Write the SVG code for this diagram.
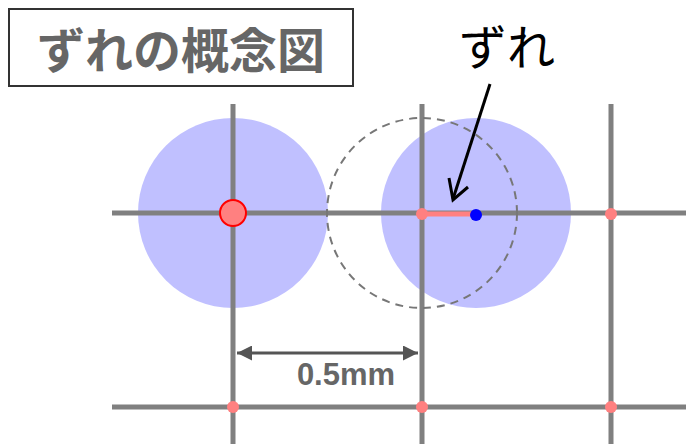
<svg xmlns="http://www.w3.org/2000/svg" width="686" height="444" viewBox="0 0 686 444">
<style>
.grid{stroke:#808080;stroke-width:5;fill:none}
.area{fill:#c0c0ff}
.pt{fill:#ff8080}
.jp{font-family:"Noto Sans CJK JP","Noto Sans",sans-serif;font-weight:bold}
</style>
<defs>
<marker id="dimArrow" viewBox="0 0 10 10" refX="10" refY="5" markerWidth="5" markerHeight="5" orient="auto-start-reverse" markerUnits="strokeWidth">
<path d="M0,0 L10,5 L0,10 z" fill="#555"/>
</marker>
</defs>
<rect width="686" height="444" fill="#fff"/>
<g id="title">
<rect x="9" y="9" width="344" height="77" fill="#fff" stroke="#333" stroke-width="2"/>
<text x="181" y="68" class="jp" font-size="48" fill="#666" text-anchor="middle">ずれの概念図</text>
</g>
<g id="areas">
<circle cx="233" cy="213" r="95" class="area"/>
<circle cx="476" cy="213" r="95" class="area"/>
</g>
<g id="grid">
<line x1="233" y1="104" x2="233" y2="444" class="grid"/>
<line x1="422" y1="104" x2="422" y2="444" class="grid"/>
<line x1="611" y1="104" x2="611" y2="444" class="grid"/>
<line x1="112" y1="213" x2="686" y2="213" class="grid"/>
<line x1="112" y1="407" x2="686" y2="407" class="grid"/>
</g>
<g id="dashed-circle">
<circle cx="422" cy="213" r="95" fill="none" stroke="#777" stroke-width="2" stroke-dasharray="8,6"/>
</g>
<g id="offset">
<line x1="422" y1="214" x2="476" y2="214" stroke="#ff8080" stroke-width="5"/>
</g>
<g id="points">
<circle cx="422" cy="214" r="6" class="pt"/>
<circle cx="611" cy="214" r="6" class="pt"/>
<circle cx="233" cy="407" r="6" class="pt"/>
<circle cx="422" cy="407" r="6" class="pt"/>
<circle cx="611" cy="407" r="6" class="pt"/>
<circle cx="476" cy="215" r="6" fill="#0000ff"/>
<circle cx="233" cy="213" r="13" fill="#ff8080" stroke="#ff0000" stroke-width="2"/>
</g>
<g id="connectors">
<line x1="490" y1="84" x2="453" y2="199" stroke="#000" stroke-width="3"/>
<polyline points="449,178 453,200 468,187" fill="none" stroke="#000" stroke-width="3" stroke-linejoin="miter"/>
<line x1="237" y1="353" x2="418" y2="353" stroke="#555" stroke-width="3" marker-start="url(#dimArrow)" marker-end="url(#dimArrow)"/>
</g>
<g id="labels">
<text x="507" y="65" class="jp" font-size="48" fill="#000" text-anchor="middle" style="font-weight:normal">ずれ</text>
<text x="346" y="385" font-family="Liberation Sans,Arial,sans-serif" font-weight="bold" font-size="31" fill="#666" text-anchor="middle">0.5mm</text>
</g>
</svg>
